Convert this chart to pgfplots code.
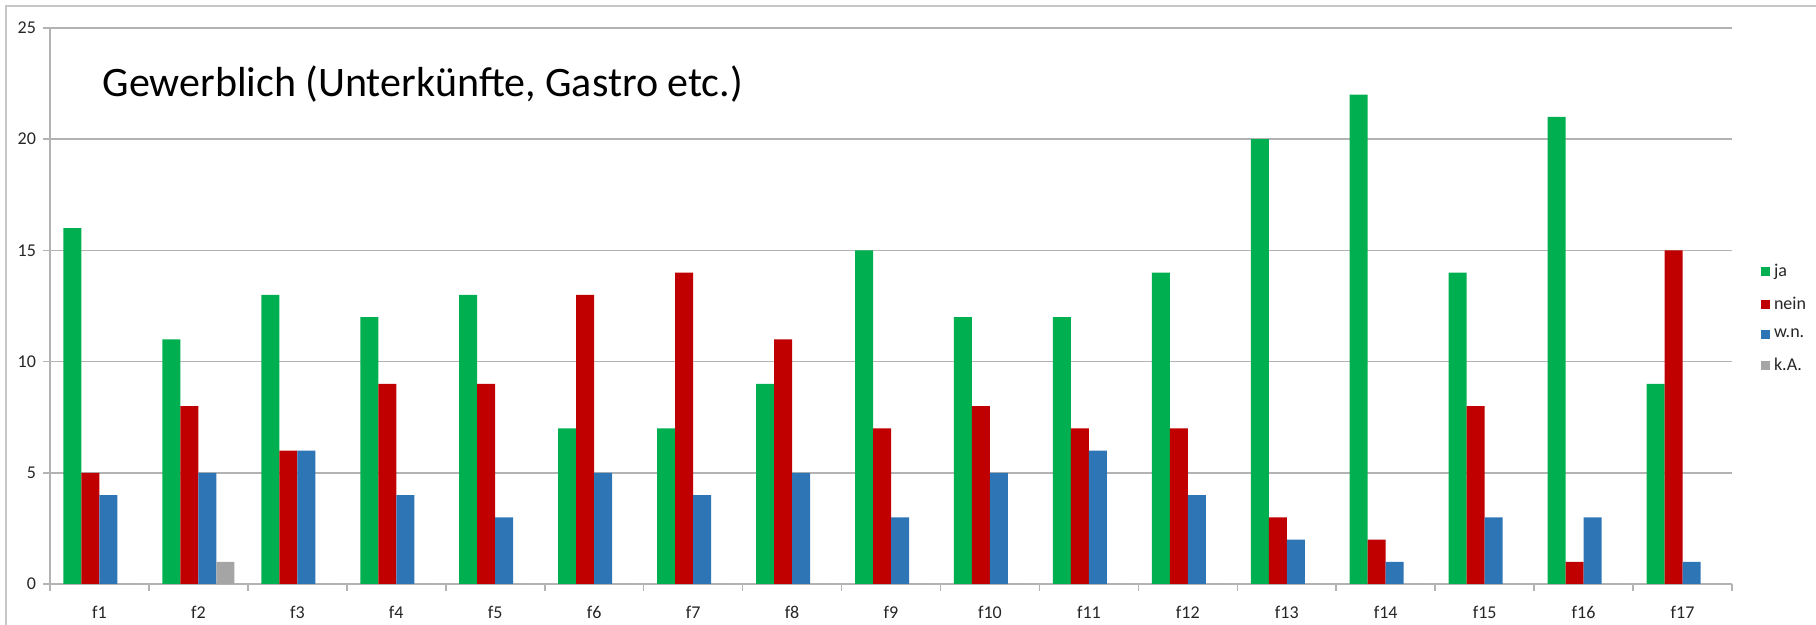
\documentclass[border=0pt]{standalone}
\usepackage{fontspec}
\setmainfont{Carlito}
\usepackage{pgfplots}
\pgfplotsset{compat=1.18}

\definecolor{ja}{HTML}{00B050}
\definecolor{nein}{HTML}{C00000}
\definecolor{wn}{HTML}{2E75B6}
\definecolor{ka}{HTML}{A5A5A5}
\definecolor{gridc}{HTML}{B3B3B3}

\pgfplotstableread{
x ja nein wn ka
0 16 5 4 0
1 11 8 5 1
2 13 6 6 0
3 12 9 4 0
4 13 9 3 0
5 7 13 5 0
6 7 14 4 0
7 9 11 5 0
8 15 7 3 0
9 12 8 5 0
10 12 7 6 0
11 14 7 4 0
12 20 3 2 0
13 22 2 1 0
14 14 8 3 0
15 21 1 3 0
16 9 15 1 0
}\data

\begin{document}
\begin{tikzpicture}[x=0.5pt,y=0.5pt]
% frame lines of the chart area
\draw[gray!45, line width=0.8pt] (6,0) -- (6,619) -- (1816,619);
\begin{axis}[
    at={(25pt,20.5pt)}, anchor=south west,
    scale only axis,
    width=841pt, height=278pt,
    ybar=0pt, bar width=9pt,
    xmin=-0.5, xmax=16.5,
    ymin=0, ymax=25,
    ytick={0,5,...,25},
    xtick={0,...,16},
    xticklabels={f1,f2,f3,f4,f5,f6,f7,f8,f9,f10,f11,f12,f13,f14,f15,f16,f17},
    minor xtick={-0.5,0.5,...,16.5},
    major x tick style={draw=none},
    minor tick length=3.5pt,
    major tick length=3.5pt,
    tick align=outside,
    tick pos=left,
    axis lines*=left,
    axis line style={gridc, line width=0.8pt},
    every tick/.style={gridc, line width=0.8pt},
    ymajorgrids,
    grid style={gridc, line width=0.8pt},
    x tick label style={yshift=-4pt},
    ticklabel style={font=\fontsize{9}{11}\selectfont, text=black!85},
    /pgf/number format/assume math mode=true,
    legend style={at={(1.017,0.583)}, anchor=north west, draw=none,
        font=\fontsize{9}{11}\selectfont, text=black!85,
        row sep=4.5pt, inner sep=0pt},
    legend cell align=left,
    legend image code/.code={\fill[#1] (0pt,-2.25pt) rectangle (4.5pt,2.25pt);},
    clip=false,
]
\addplot[fill=ja, draw=none] table[x=x, y=ja] {\data};
\addplot[fill=nein, draw=none] table[x=x, y=nein] {\data};
\addplot[fill=wn, draw=none] table[x=x, y=wn] {\data};
\addplot[fill=ka, draw=none] table[x=x, y=ka] {\data};
\legend{ja, nein, w.n., k.A.}
\node[anchor=west, font=\fontsize{21}{24}\selectfont, inner sep=0pt] at (rel axis cs:0.031,0.899) {Gewerblich (Unterkünfte, Gastro etc.)};
\end{axis}
\pgfresetboundingbox
\path (0,0) rectangle (1816,625);
\end{tikzpicture}
\end{document}
